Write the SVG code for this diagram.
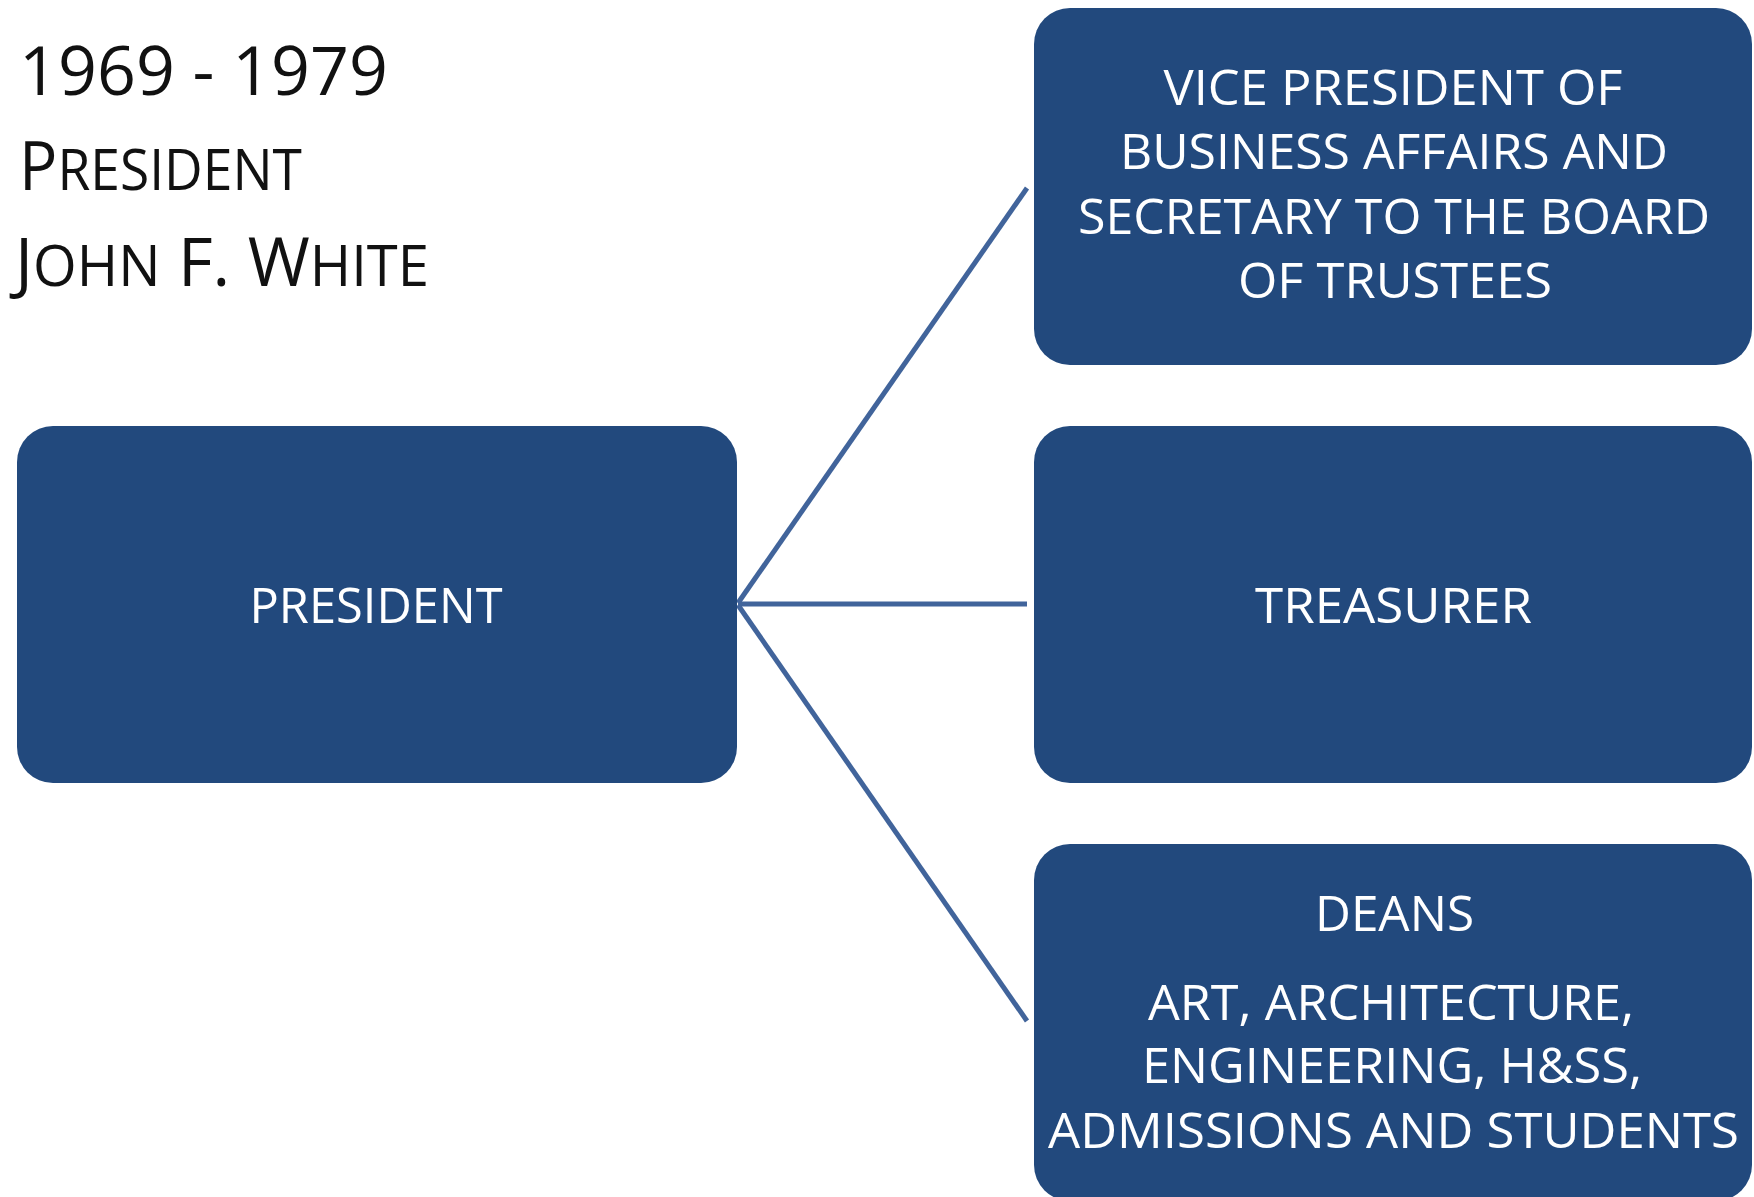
<svg xmlns="http://www.w3.org/2000/svg" width="1754" height="1197" viewBox="0 0 1754 1197">
<style>
.box{fill:#22497D;}
.lbl{font-family:"Open Sans","Liberation Sans",sans-serif;font-size:49px;fill:#FFFFFF;text-anchor:middle;}
.ttl{font-family:"Open Sans","Liberation Sans",sans-serif;font-size:67px;fill:#111111;}
.sc{font-size:56px;}
.con{stroke:#41649B;stroke-width:5;fill:none;stroke-linecap:butt;}
</style>
<rect x="0" y="0" width="1754" height="1197" fill="#FFFFFF"/>
<g id="title">
<text class="ttl" x="19" y="95" textLength="369" lengthAdjust="spacingAndGlyphs">1969 - 1979</text>
<text class="ttl" x="19" y="190" textLength="283" lengthAdjust="spacingAndGlyphs">P<tspan class="sc">RESIDENT</tspan></text>
<text class="ttl" x="15" y="286" textLength="414" lengthAdjust="spacingAndGlyphs">J<tspan class="sc">OHN</tspan> F. W<tspan class="sc">HITE</tspan></text>
</g>
<g id="connectors">
<line class="con" x1="738" y1="603" x2="1027" y2="188"/>
<line class="con" x1="738" y1="604" x2="1027" y2="604"/>
<line class="con" x1="738" y1="605" x2="1027" y2="1021"/>
</g>
<g id="president">
<rect class="box" x="17" y="426" width="720" height="357" rx="36" ry="36"/>
<text class="lbl" x="376" y="623" textLength="253" lengthAdjust="spacingAndGlyphs">PRESIDENT</text>
</g>
<g id="vp">
<rect class="box" x="1034" y="8" width="718" height="357" rx="36" ry="36"/>
<text class="lbl" x="1393" y="105" textLength="459" lengthAdjust="spacingAndGlyphs">VICE PRESIDENT OF</text>
<text class="lbl" x="1394" y="169" textLength="548" lengthAdjust="spacingAndGlyphs">BUSINESS AFFAIRS AND</text>
<text class="lbl" x="1394" y="234" textLength="632" lengthAdjust="spacingAndGlyphs">SECRETARY TO THE BOARD</text>
<text class="lbl" x="1395" y="298" textLength="314" lengthAdjust="spacingAndGlyphs">OF TRUSTEES</text>
</g>
<g id="treasurer">
<rect class="box" x="1034" y="426" width="718" height="357" rx="36" ry="36"/>
<text class="lbl" x="1393.5" y="623" textLength="277" lengthAdjust="spacingAndGlyphs">TREASURER</text>
</g>
<g id="deans">
<rect class="box" x="1034" y="844" width="718" height="357" rx="36" ry="36"/>
<text class="lbl" x="1394.5" y="931" textLength="159" lengthAdjust="spacingAndGlyphs">DEANS</text>
<text class="lbl" x="1391" y="1020" textLength="486" lengthAdjust="spacingAndGlyphs">ART, ARCHITECTURE,</text>
<text class="lbl" x="1392" y="1083" textLength="500" lengthAdjust="spacingAndGlyphs">ENGINEERING, H&amp;SS,</text>
<text class="lbl" x="1393.5" y="1148" textLength="691" lengthAdjust="spacingAndGlyphs">ADMISSIONS AND STUDENTS</text>
</g>
</svg>
